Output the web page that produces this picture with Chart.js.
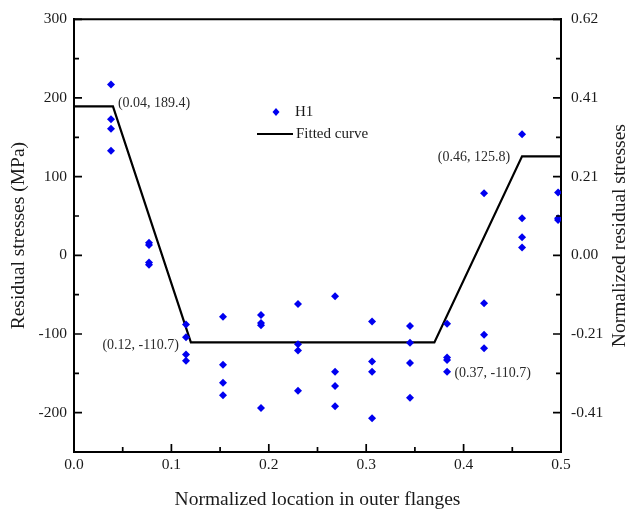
<!DOCTYPE html>
<html>
<head>
<meta charset="utf-8">
<script src="https://cdn.jsdelivr.net/npm/chart.js@4/dist/chart.umd.min.js"></script>
<style>
  html, body { margin: 0; padding: 0; background: #fff; }
  #wrap { width: 630px; height: 525px; position: relative; }
</style>
</head>
<body>
<div id="wrap"><canvas id="c"></canvas></div>
<script>
'use strict';

// ── データ ────────────────────────────────────────────────
const locations = [0.038, 0.077, 0.115, 0.153, 0.192, 0.230, 0.268, 0.306, 0.345, 0.383, 0.421, 0.460, 0.497];
const h1Stress = [
  [217, 173, 161, 133],
  [16, 13, -9, -12],
  [-88, -104, -126, -134],
  [-78, -139, -162, -178],
  [-76, -86, -89, -194],
  [-62, -113, -121, -172],
  [-52, -148, -166, -192],
  [-84, -135, -148, -207],
  [-90, -111, -137, -181],
  [-87, -130, -133, -148],
  [79, -61, -101, -118],
  [154, 47, 23, 10],
  [80, 47, 45],
];
const fitX = [0, 0.04, 0.12, 0.37, 0.46, 0.5];
const fitY = [189.4, 189.4, -110.7, -110.7, 125.8, 125.8];
const leftTicks = [300, 200, 100, 0, -100, -200];
const rightTickLabels = ['0.62', '0.41', '0.21', '0.00', '-0.21', '-0.41'];
const xTickLabels = ['0.0', '0.1', '0.2', '0.3', '0.4', '0.5'];

const SERIF = '"Liberation Serif", "Times New Roman", serif';
const INK = '#1a1a1a';
const BLUE = '#0000f0';

const h1Points = [];
locations.forEach((x, i) => h1Stress[i].forEach(y => h1Points.push({ x, y })));
const fitPoints = fitX.map((x, i) => ({ x, y: fitY[i] }));

// ── 枠・内向き目盛・注記・凡例 ─────────────────────────────
const decor = {
  id: 'decor',
  afterDatasetsDraw(chart) {
    const { ctx, chartArea: a, scales } = chart;
    const sx = scales.x, sy = scales.y;
    ctx.save();
    ctx.strokeStyle = '#000';
    ctx.lineWidth = 2;
    ctx.beginPath();
    ctx.moveTo(a.left - 1, a.top);
    ctx.lineTo(a.right + 1, a.top);
    ctx.stroke();

    ctx.lineWidth = 1.7;
    ctx.beginPath();
    for (let k = 0; k <= 10; k++) {
      const px = sx.getPixelForValue(k * 0.05);
      const len = k % 2 === 0 ? 8 : 5;
      ctx.moveTo(px, a.bottom);
      ctx.lineTo(px, a.bottom - len);
    }
    for (let k = 0; k <= 11; k++) {
      const v = -250 + k * 50;
      const py = sy.getPixelForValue(v);
      const len = v % 100 === 0 ? 8 : 5;
      ctx.moveTo(a.left, py);
      ctx.lineTo(a.left + len, py);
      ctx.moveTo(a.right, py);
      ctx.lineTo(a.right - len, py);
    }
    ctx.stroke();

    // 注記
    ctx.font = '14px ' + SERIF;
    ctx.fillStyle = '#2a2a2a';
    ctx.textBaseline = 'middle';
    const notes = [
      { i: 1, dx: 5, dy: -3, align: 'left' },
      { i: 2, dx: -12, dy: 3, align: 'right' },
      { i: 3, dx: 20, dy: 31, align: 'left' },
      { i: 4, dx: -12, dy: 1, align: 'right' },
    ];
    notes.forEach(n => {
      const px = sx.getPixelForValue(fitX[n.i]);
      const py = sy.getPixelForValue(fitY[n.i]);
      ctx.textAlign = n.align;
      ctx.fillText(`(${fitX[n.i]}, ${fitY[n.i]})`, px + n.dx, py + n.dy);
    });

    // 凡例
    ctx.font = '15px ' + SERIF;
    ctx.textAlign = 'left';
    ctx.fillStyle = BLUE;
    ctx.beginPath();
    ctx.moveTo(276, 108); ctx.lineTo(279.5, 112); ctx.lineTo(276, 116); ctx.lineTo(272.5, 112);
    ctx.closePath();
    ctx.fill();
    ctx.fillStyle = INK;
    ctx.fillText('H1', 295, 112);
    ctx.strokeStyle = '#000';
    ctx.lineWidth = 2;
    ctx.beginPath();
    ctx.moveTo(257, 134); ctx.lineTo(293, 134);
    ctx.stroke();
    ctx.fillText('Fitted curve', 296, 134);

    // 右軸タイトル（下から上へ）
    ctx.font = '19.5px ' + SERIF;
    ctx.textAlign = 'center';
    ctx.translate(620, (a.top + a.bottom) / 2);
    ctx.rotate(-Math.PI / 2);
    ctx.fillText('Normalized residual stresses', 0, 0);
    ctx.restore();
  },
};

// ── チャート ─────────────────────────────────────────────
Chart.defaults.font.family = SERIF;
Chart.defaults.color = INK;

new Chart(document.getElementById('c'), {
  type: 'scatter',
  data: {
    datasets: [
      {
        label: 'H1',
        data: h1Points,
        pointStyle: 'rectRot',
        pointRadius: 4,
        pointBackgroundColor: BLUE,
        pointBorderWidth: 0,
        showLine: false,
      },
      {
        label: 'Fitted curve',
        type: 'line',
        data: fitPoints,
        borderColor: '#000',
        borderWidth: 2.2,
        pointRadius: 0,
        tension: 0,
        fill: false,
      },
    ],
  },
  plugins: [decor],
  options: {
    responsive: true,
    maintainAspectRatio: false,
    animation: false,
    layout: { padding: { top: 17, left: 0, right: 0, bottom: 0 } },
    plugins: { legend: { display: false }, tooltip: { enabled: false } },
    scales: {
      x: {
        type: 'linear',
        min: 0,
        max: 0.5,
        grid: { display: false, drawTicks: false },
        border: { display: true, color: '#000', width: 2 },
        ticks: {
          stepSize: 0.1,
          padding: 4,
          font: { size: 15.5 },
          color: INK,
          callback: (v, i) => xTickLabels[i] ?? '',
        },
        title: {
          display: true,
          text: 'Normalized location in outer flanges',
          font: { size: 19.5 },
          color: INK,
          padding: { top: 0, bottom: 13 },
        },
        afterFit: s => { s.height = 73; },
      },
      y: {
        position: 'left',
        min: -250,
        max: 300,
        grid: { display: false, drawTicks: false },
        border: { display: true, color: '#000', width: 2 },
        afterBuildTicks: s => { s.ticks = leftTicks.map(value => ({ value })); },
        ticks: {
          padding: 7,
          font: { size: 15.5 },
          color: INK,
          callback: v => String(v),
        },
        title: {
          display: true,
          text: 'Residual stresses (MPa)',
          font: { size: 19.5 },
          color: INK,
          padding: { top: 7, bottom: 0 },
        },
        afterFit: s => { s.width = 74; },
      },
      y2: {
        position: 'right',
        min: -250,
        max: 300,
        grid: { display: false, drawTicks: false },
        border: { display: true, color: '#000', width: 2 },
        afterBuildTicks: s => { s.ticks = leftTicks.map(value => ({ value })); },
        ticks: {
          padding: 10,
          font: { size: 15.5 },
          color: INK,
          callback: (v, i) => rightTickLabels[i] ?? '',
        },
        afterFit: s => { s.width = 69; },
      },
    },
  },
});
</script>
</body>
</html>
